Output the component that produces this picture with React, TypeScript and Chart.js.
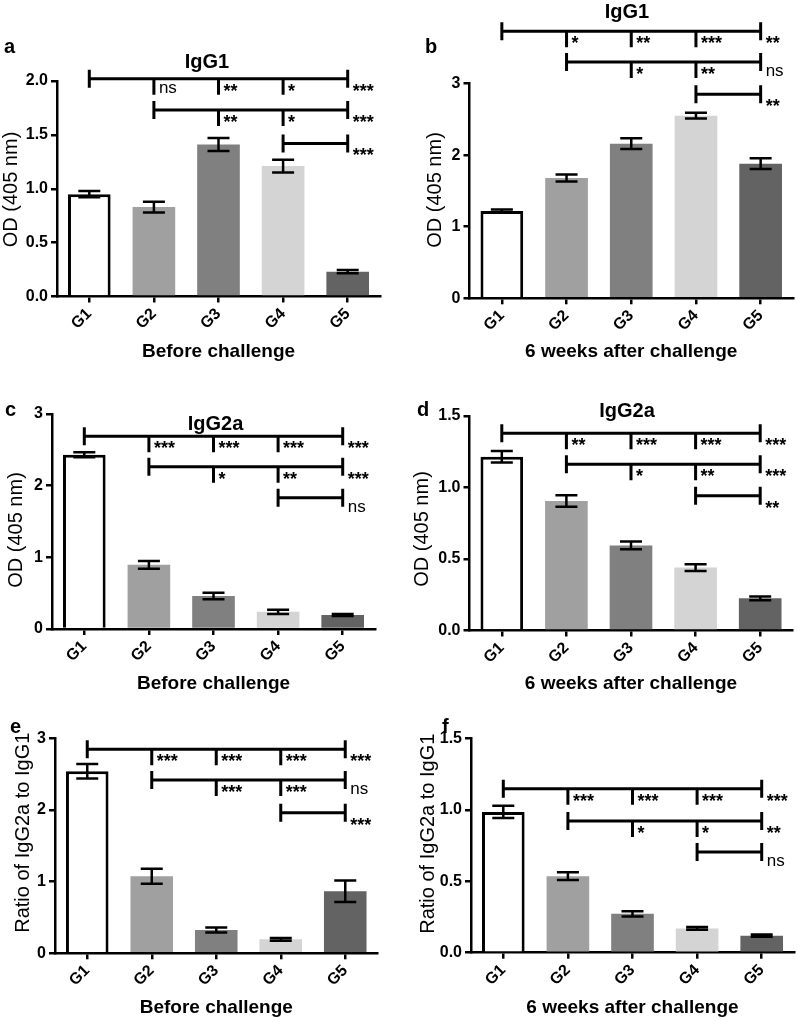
import React, { useEffect, useRef } from 'react';
import { Chart, registerables } from 'chart.js';

Chart.register(...registerables);

const FONT = "'Liberation Sans', Arial, Helvetica, sans-serif";
Chart.defaults.font.family = FONT;
Chart.defaults.color = '#000';

// ---------- data ----------
const groups = ['G1', 'G2', 'G3', 'G4', 'G5'];
const barColors = ['#ffffff', '#a0a0a0', '#808080', '#d4d4d4', '#636363'];

const yTitleOD = 'OD (405 nm)';
const yTitleRatio = 'Ratio of IgG2a to IgG1';
const xTitleBefore = 'Before challenge';
const xTitleAfter = '6 weeks after challenge';

// a: IgG1 before challenge
const aMeans = [0.95, 0.83, 1.41, 1.21, 0.23];
const aErrors = [0.03, 0.05, 0.06, 0.06, 0.015];
const aSigLevels = [2.02, 1.73, 1.42];
const aSigMarks = [
  ['', 'ns', '**', '*', '***'],
  [null, '', '**', '*', '***'],
  [null, null, null, '', '***'],
];

// b: IgG1 6 weeks after challenge
const bMeans = [1.22, 1.68, 2.16, 2.55, 1.88];
const bErrors = [0.02, 0.05, 0.075, 0.04, 0.075];
const bSigLevels = [3.73, 3.3, 2.85];
const bSigMarks = [
  ['', '*', '**', '***', '**'],
  [null, '', '*', '**', 'ns'],
  [null, null, null, '', '**'],
];

// c: IgG2a before challenge
const cMeans = [2.43, 0.895, 0.46, 0.24, 0.195];
const cErrors = [0.035, 0.055, 0.045, 0.03, 0.015];
const cSigLevels = [2.69, 2.265, 1.83];
const cSigMarks = [
  ['', '***', '***', '***', '***'],
  [null, '', '*', '**', '***'],
  [null, null, null, '', 'ns'],
];

// d: IgG2a 6 weeks after challenge
const dMeans = [1.215, 0.905, 0.595, 0.44, 0.225];
const dErrors = [0.04, 0.04, 0.027, 0.024, 0.013];
const dSigLevels = [1.379, 1.162, 0.943];
const dSigMarks = [
  ['', '**', '***', '***', '***'],
  [null, '', '*', '**', '***'],
  [null, null, null, '', '**'],
];

// e: ratio before challenge
const eMeans = [2.54, 1.075, 0.325, 0.195, 0.865];
const eErrors = [0.1, 0.105, 0.035, 0.02, 0.15];
const eSigLevels = [2.846, 2.418, 1.962];
const eSigMarks = [
  ['', '***', '***', '***', '***'],
  [null, '', '***', '***', 'ns'],
  [null, null, null, '', '***'],
];

// f: ratio 6 weeks after challenge
const fMeans = [0.985, 0.535, 0.272, 0.17, 0.119];
const fErrors = [0.043, 0.027, 0.018, 0.01, 0.008];
const fSigLevels = [1.147, 0.921, 0.705];
const fSigMarks = [
  ['', '***', '***', '***', '***'],
  [null, '', '*', '*', '**'],
  [null, null, null, '', 'ns'],
];

// ---------- layout ----------
type Panel = {
  letter: string;
  title: string | null;
  means: number[];
  errors: number[];
  sigLevels: number[];
  sigMarks: (string | null)[][];
  yMax: number;
  yStep: number;
  decimals: number;
  yTitle: string;
  xTitle: string;
  box: { x: number; y: number; w: number; h: number };
  area: { l: number; r: number; t: number; b: number };
  yTitlePos: [number, number];
  letterPos: [number, number];
  titlePos: [number, number] | null;
};

const panels: Panel[] = [
  {
    letter: 'a', title: 'IgG1', means: aMeans, errors: aErrors, sigLevels: aSigLevels, sigMarks: aSigMarks,
    yMax: 2, yStep: 0.5, decimals: 1, yTitle: yTitleOD, xTitle: xTitleBefore,
    box: { x: 0, y: 0, w: 400, h: 365 }, area: { l: 57, r: 380, t: 81, b: 296.5 },
    yTitlePos: [11.5, 189.5], letterPos: [4, 53], titlePos: [207, 68.3],
  },
  {
    letter: 'b', title: 'IgG1', means: bMeans, errors: bErrors, sigLevels: bSigLevels, sigMarks: bSigMarks,
    yMax: 3, yStep: 1, decimals: 0, yTitle: yTitleOD, xTitle: xTitleAfter,
    box: { x: 400, y: 0, w: 397, h: 365 }, area: { l: 69.5, r: 393, t: 83.5, b: 298.3 },
    yTitlePos: [35.8, 190], letterPos: [25, 53], titlePos: [227, 18.3],
  },
  {
    letter: 'c', title: 'IgG2a', means: cMeans, errors: cErrors, sigLevels: cSigLevels, sigMarks: cSigMarks,
    yMax: 3, yStep: 1, decimals: 0, yTitle: yTitleOD, xTitle: xTitleBefore,
    box: { x: 0, y: 365, w: 400, h: 332 }, area: { l: 52, r: 375, t: 49, b: 264 },
    yTitlePos: [16.7, 165], letterPos: [5, 51], titlePos: [215.5, 65],
  },
  {
    letter: 'd', title: 'IgG2a', means: dMeans, errors: dErrors, sigLevels: dSigLevels, sigMarks: dSigMarks,
    yMax: 1.5, yStep: 0.5, decimals: 1, yTitle: yTitleOD, xTitle: xTitleAfter,
    box: { x: 400, y: 365, w: 397, h: 332 }, area: { l: 69.5, r: 392.5, t: 51, b: 265.5 },
    yTitlePos: [22.5, 164], letterPos: [17, 51], titlePos: [227, 51.7],
  },
  {
    letter: 'e', title: null, means: eMeans, errors: eErrors, sigLevels: eSigLevels, sigMarks: eSigMarks,
    yMax: 3, yStep: 1, decimals: 0, yTitle: yTitleRatio, xTitle: xTitleBefore,
    box: { x: 0, y: 697, w: 400, h: 324 }, area: { l: 55, r: 377.5, t: 41.3, b: 256.3 },
    yTitlePos: [23.5, 135.7], letterPos: [10, 36], titlePos: null,
  },
  {
    letter: 'f', title: null, means: fMeans, errors: fErrors, sigLevels: fSigLevels, sigMarks: fSigMarks,
    yMax: 1.5, yStep: 0.5, decimals: 1, yTitle: yTitleRatio, xTitle: xTitleAfter,
    box: { x: 400, y: 697, w: 397, h: 324 }, area: { l: 71, r: 394, t: 41.3, b: 255.7 },
    yTitlePos: [28.5, 136.7], letterPos: [42, 36], titlePos: null,
  },
];

function makeAnnotations(p: Panel) {
  return {
    id: 'annot-' + p.letter,
    afterDatasetsDraw(chart: any) {
      const ctx = chart.ctx as CanvasRenderingContext2D;
      const ys = chart.scales.y;
      const meta = chart.getDatasetMeta(0);
      const cap = 11;
      ctx.save();
      ctx.strokeStyle = '#000';
      ctx.lineWidth = 2.5;
      meta.data.forEach((el: any, i: number) => {
        const x = el.x;
        const hi = ys.getPixelForValue(p.means[i] + p.errors[i]);
        const lo = ys.getPixelForValue(p.means[i] - p.errors[i]);
        ctx.beginPath();
        ctx.moveTo(x, hi);
        ctx.lineTo(x, lo);
        ctx.moveTo(x - cap, hi);
        ctx.lineTo(x + cap, hi);
        ctx.moveTo(x - cap, lo);
        ctx.lineTo(x + cap, lo);
        ctx.stroke();
      });
      ctx.restore();
    },
    afterDraw(chart: any) {
      const ctx = chart.ctx as CanvasRenderingContext2D;
      const xs = chart.scales.x;
      const ys = chart.scales.y;
      ctx.save();
      ctx.strokeStyle = '#000';
      ctx.fillStyle = '#000';
      ctx.lineWidth = 3;
      p.sigLevels.forEach((lvl, r) => {
        const marks = p.sigMarks[r];
        const start = marks.findIndex((m) => m !== null);
        const end = marks.length - 1;
        const y = ys.getPixelForValue(lvl);
        const px = (i: number) => xs.getPixelForValue(i);
        ctx.beginPath();
        ctx.moveTo(px(start), y);
        ctx.lineTo(px(end), y);
        ctx.moveTo(px(start), y - 9);
        ctx.lineTo(px(start), y + 9);
        ctx.moveTo(px(end), y - 9);
        ctx.lineTo(px(end), y + 9);
        for (let i = start + 1; i < end; i++) {
          ctx.moveTo(px(i), y);
          ctx.lineTo(px(i), y + 16);
        }
        ctx.stroke();
        ctx.textAlign = 'left';
        ctx.textBaseline = 'alphabetic';
        for (let i = start + 1; i <= end; i++) {
          const m = marks[i];
          if (!m) continue;
          if (m === 'ns') {
            ctx.font = `17px ${FONT}`;
            ctx.fillText(m, px(i) + 5, y + 14);
          } else {
            ctx.font = `bold 18px ${FONT}`;
            ctx.fillText(m, px(i) + 5, y + 18);
          }
        }
      });
      // panel letter
      ctx.font = `bold 20px ${FONT}`;
      ctx.textAlign = 'left';
      ctx.fillText(p.letter, p.letterPos[0], p.letterPos[1]);
      // panel title
      if (p.title && p.titlePos) {
        ctx.textAlign = 'center';
        ctx.fillText(p.title, p.titlePos[0], p.titlePos[1]);
      }
      // y-axis title
      ctx.save();
      ctx.translate(p.yTitlePos[0], p.yTitlePos[1]);
      ctx.rotate(-Math.PI / 2);
      ctx.font = `20px ${FONT}`;
      ctx.textAlign = 'center';
      ctx.textBaseline = 'middle';
      ctx.fillText(p.yTitle, 0, 0);
      ctx.restore();
      ctx.restore();
    },
  };
}

function PanelChart({ p }: { p: Panel }) {
  const ref = useRef<HTMLCanvasElement>(null);
  useEffect(() => {
    const canvas = ref.current;
    if (!canvas) return;
    const chart = new Chart(canvas, {
      type: 'bar',
      data: {
        labels: groups,
        datasets: [
          {
            data: p.means,
            backgroundColor: barColors,
            borderColor: groups.map((_, i) => (i === 0 ? '#000' : barColors[i])),
            borderWidth: groups.map((_, i) => (i === 0 ? 3 : 0)),
            borderSkipped: 'start',
            barPercentage: 0.66,
            categoryPercentage: 1,
          },
        ],
      },
      options: {
        responsive: false,
        animation: false,
        events: [],
        layout: { padding: { left: 0, right: p.box.w - p.area.r, top: p.area.t, bottom: 0 } },
        plugins: { legend: { display: false }, tooltip: { enabled: false }, title: { display: false } },
        scales: {
          x: {
            type: 'category',
            offset: true,
            grid: { offset: false, drawOnChartArea: false, drawTicks: true, tickLength: 6, color: '#000', lineWidth: 2.5 },
            border: { display: true, color: '#000', width: 2.5 },
            ticks: {
              autoSkip: false,
              minRotation: 45,
              maxRotation: 45,
              padding: 2,
              color: '#000',
              font: { size: 16, weight: 'bold' },
            },
            title: {
              display: true,
              text: p.xTitle,
              color: '#000',
              font: { size: 19, weight: 'bold' },
              padding: { top: 0, bottom: 1.6 },
            },
            afterFit: (s: any) => {
              s.height = p.box.h - p.area.b;
            },
          },
          y: {
            type: 'linear',
            min: 0,
            max: p.yMax,
            grid: { drawOnChartArea: false, drawTicks: true, tickLength: 6, color: '#000', lineWidth: 2.5 },
            border: { display: true, color: '#000', width: 2.5 },
            ticks: {
              stepSize: p.yStep,
              padding: 3,
              color: '#000',
              font: { size: 16, weight: 'bold' },
              callback: (v: any) => Number(v).toFixed(p.decimals),
            },
            afterFit: (s: any) => {
              s.width = p.area.l;
            },
          },
        },
      } as any,
      plugins: [makeAnnotations(p)],
    });
    return () => chart.destroy();
  }, [p]);
  return (
    <canvas
      ref={ref}
      width={p.box.w}
      height={p.box.h}
      style={{ position: 'absolute', left: p.box.x, top: p.box.y, width: p.box.w, height: p.box.h }}
    />
  );
}

export default function App() {
  return (
    <div style={{ position: 'absolute', left: 0, top: 0, width: 797, height: 1021, background: '#fff', overflow: 'hidden' }}>
      {panels.map((p) => (
        <PanelChart key={p.letter} p={p} />
      ))}
    </div>
  );
}
